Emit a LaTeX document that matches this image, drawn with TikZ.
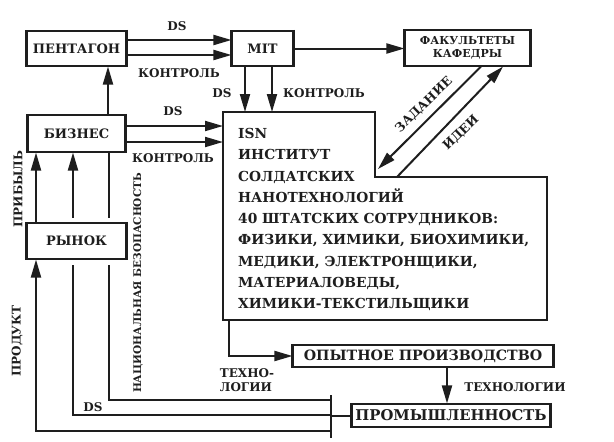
\documentclass[tikz,border=0pt]{standalone}
\usepackage{fontspec}
\setmainfont{DejaVu Serif}
\usetikzlibrary{arrows.meta}
\definecolor{ink}{HTML}{1E1E1E}
\begin{document}
\begin{tikzpicture}[x=1pt,y=-1pt,
  conn/.style={draw=ink, line width=2pt},
  arr/.style={conn, -{Triangle[length=18pt,width=10pt]}},
  lbl/.style={font=\bfseries\fontsize{12}{14}\selectfont, text=ink, inner sep=0},
  sbox/.style={draw=ink, line width=1.1pt, fill=white, inner sep=0, align=center, text=ink,
    font=\bfseries\fontsize{13}{14}\selectfont},
  sides/.style={draw=ink, line width=2.8pt, shorten <=-0.55pt, shorten >=-0.55pt}]
\useasboundingbox[fill=white] (0,0) rectangle (614,442);

% boxes
\node[sbox, minimum width=99, minimum height=35] (pent) at (76.5,48.5) {ПЕНТАГОН};
\node[sbox, minimum width=61, minimum height=35] (mit) at (262.5,48.5) {MIT};
\node[sbox, minimum width=125, minimum height=36, font=\bfseries\fontsize{11}{13.5}\selectfont] (fak) at (467.5,48) {ФАКУЛЬТЕТЫ\\КАФЕДРЫ};
\node[sbox, minimum width=97, minimum height=37] (biz) at (76.5,133.5) {БИЗНЕС};
\node[sbox, minimum width=260, minimum height=22, font=\bfseries\fontsize{14.2}{15}\selectfont] (op) at (423,356) {ОПЫТНОЕ ПРОИЗВОДСТВО};
\node[sbox, minimum width=198, minimum height=23, font=\bfseries\fontsize{14.8}{15}\selectfont] (prom) at (451,415.5) {ПРОМЫШЛЕННОСТЬ};

% ISN block
\coordinate (i1) at (223,112);
\coordinate (i2) at (375,112);
\coordinate (i3) at (375,177);
\coordinate (i4) at (547,177);
\coordinate (i5) at (547,320);
\coordinate (i6) at (223,320);
\draw[draw=ink, line width=2.4pt, line join=miter] (i1) -- (i2) -- (i3) -- (i4) -- (i5) -- (i6) -- cycle;
\node[anchor=north west, inner sep=0, align=left, text=ink,
  font=\bfseries\fontsize{13.8}{21.3}\selectfont] (isntext) at (238,128)
  {ISN\\ИНСТИТУТ\\СОЛДАТСКИХ\\НАНОТЕХНОЛОГИЙ\\40 ШТАТСКИХ СОТРУДНИКОВ:\\ФИЗИКИ, ХИМИКИ, БИОХИМИКИ,\\МЕДИКИ, ЭЛЕКТРОНЩИКИ,\\МАТЕРИАЛОВЕДЫ,\\ХИМИКИ-ТЕКСТИЛЬЩИКИ};

% top connectors
\draw[arr] (pent.east |- 0,40) -- (mit.west |- 0,40);
\draw[arr] (pent.east |- 0,55) -- (mit.west |- 0,55);
\node[lbl] (lds1) at (177,26) {DS};
\node[lbl] (lk1) at (179,73) {КОНТРОЛЬ};
\draw[arr] (mit.east) -- (mit.east -| fak.west);
\draw[arr] (mit.south -| 245,0) -- (i1 -| 245,0);
\draw[arr] (mit.south -| 272,0) -- (i1 -| 272,0);
\node[lbl] (lds2) at (222,93) {DS};
\node[lbl] (lk2) at (324,93) {КОНТРОЛЬ};
\draw[arr] (biz.north -| 108,0) -- (pent.south -| 108,0);
\draw[arr] (biz.east |- 0,126) -- (i1 |- 0,126);
\draw[arr] (biz.east |- 0,142) -- (i1 |- 0,142);
\node[lbl] (lds3) at (173,111) {DS};
\node[lbl] (lk3) at (173,158) {КОНТРОЛЬ};

% faculty <-> ISN
\coordinate (ztip) at (378,169);
\draw[arr] (fak.south -| 481,0) -- (ztip);
\draw[arr] (i3 -| 397,0) -- (fak.south -| 503,0);
\node[lbl, rotate=44, font=\bfseries\fontsize{12.5}{14}\selectfont] (lzad) at (424,105) {ЗАДАНИЕ};
\node[lbl, rotate=44, font=\bfseries\fontsize{12.5}{14}\selectfont] (lid) at (461,133) {ИДЕИ};

% lower right
\draw[arr] (i6 -| 229,0) |- (op.west);
\draw[arr] (op.south -| 447,0) -- (prom.north -| 447,0);
\node[lbl, align=left] (ltech1) at (247,380) {ТЕХНО-\\ЛОГИИ};
\node[lbl] (ltech2) at (515,387) {ТЕХНОЛОГИИ};

% bar and feedback lines
\coordinate (barT) at (331,395);
\coordinate (barB) at (331,438);
\draw[conn] (barT) -- (barB);
\draw[conn] (barT |- prom.west) -- (prom.west);
\draw[arr] (barT |- 0,415) -| (biz.south -| 73,0);
\draw[conn] (barT |- 0,400) -| (biz.south -| 109,0);
\node[sbox, minimum width=99, minimum height=36,
  preaction={draw=white, line width=11pt}] (ryn) at (76.5,241) {РЫНОК};
\draw[arr] (barT |- 0,431) -| (ryn.south -| 36,0);
\draw[arr] (ryn.north -| 36,0) -- (biz.south -| 36,0);

\node[lbl, rotate=90] (lprib) at (18,189) {ПРИБЫЛЬ};
\node[lbl, rotate=90] (lprod) at (17,341) {ПРОДУКТ};
\node[lbl, rotate=90, font=\bfseries\fontsize{10.5}{12}\selectfont] (lnat) at (138,283) {НАЦИОНАЛЬНАЯ БЕЗОПАСНОСТЬ};
\node[lbl] (lds4) at (93,407) {DS};

% thick side edges of the boxes
\foreach \n in {pent,mit,fak,biz,ryn,op,prom}
  \draw[sides] (\n.north west) -- (\n.south west) (\n.north east) -- (\n.south east);
\end{tikzpicture}
\end{document}
